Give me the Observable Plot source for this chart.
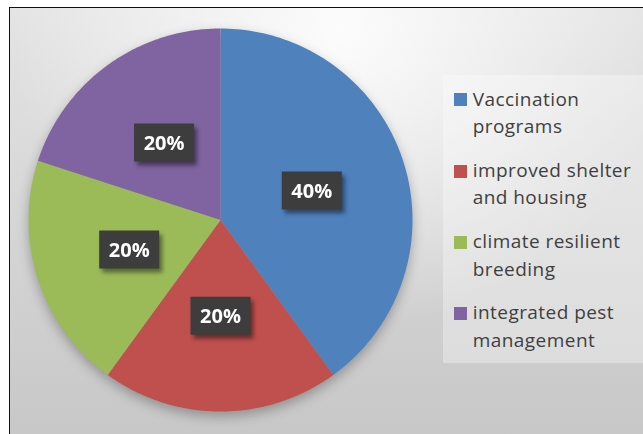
<!DOCTYPE html>
<html>
<head>
<meta charset="utf-8">
<script src="https://cdn.jsdelivr.net/npm/d3@7"></script>
<script src="https://cdn.jsdelivr.net/npm/@observablehq/plot@0.6"></script>
<style>
  html, body { margin: 0; padding: 0; background: #fff; }
  #wrap { position: relative; width: 643px; height: 434px; overflow: hidden; }
  #frame {
    position: absolute; left: 9px; top: 7px; width: 700px; height: 500px;
    border-left: 1.5px solid #111; border-top: 1.5px solid #111;
    background:
      radial-gradient(ellipse 330px 300px at 330px 20px, rgba(252,252,252,1) 0%, rgba(252,252,252,0) 100%),
      linear-gradient(#e4e4e4, #c6c6c6 90%);
  }
  #chart { position: absolute; left: 0; top: 0; }
  #legend {
    position: absolute; left: 443px; top: 75px; width: 220px; height: 288px;
    background: rgba(255,255,255,0.32);
    font-family: "Open Sans", sans-serif; font-size: 19px; letter-spacing: 0.45px;
    color: #3f3f3f; line-height: 27.5px; box-sizing: border-box; padding-top: 10.5px;
  }
  .item { position: relative; padding-left: 29.7px; width: 170px; margin-bottom: 16.3px; }
  .sw { position: absolute; left: 11.3px; top: 7.8px; width: 13px; height: 13px; }
</style>
</head>
<body>
<div id="wrap">
  <div id="frame"></div>
  <div id="chart"></div>
  <div id="legend"></div>
</div>
<script>
const categories = ["Vaccination programs", "improved shelter and housing", "climate resilient breeding", "integrated pest management"];
const values = [40, 20, 20, 20];
const labels = ["40%", "20%", "20%", "20%"];
const colors = ["#4F81BD", "#C0504D", "#9BBB59", "#8064A2"];

const data = categories.map((c, i) => ({cat: c, value: values[i], label: labels[i]}));
const arcs = d3.pie().sort(null).value(d => d.value)(data);

// slice outlines derived from the pie angles (unit circle, y up)
const pts = [];
for (const a of arcs) {
  const n = 120;
  pts.push({cat: a.data.cat, x: 0, y: 0});
  for (let k = 0; k <= n; k++) {
    const t = a.startAngle + (a.endAngle - a.startAngle) * k / n;
    pts.push({cat: a.data.cat, x: Math.sin(t), y: Math.cos(t)});
  }
  pts.push({cat: a.data.cat, x: 0, y: 0});
}
const cents = arcs.map(a => {
  const m = (a.startAngle + a.endAngle) / 2;
  return {cat: a.data.cat, label: a.data.label, x: 0.5 * Math.sin(m), y: 0.5 * Math.cos(m)};
});

const box = {draw(ctx) { ctx.rect(-30, -19, 60, 38); }};

const chart = Plot.plot({
  width: 643, height: 434,
  marginLeft: 28, marginRight: 231, marginTop: 28, marginBottom: 23,
  x: {domain: [-1, 1], axis: null},
  y: {domain: [-1, 1], axis: null},
  color: {domain: categories, range: colors},
  style: {background: "transparent", fontFamily: "Open Sans, sans-serif"},
  marks: [
    Plot.line(pts, {x: "x", y: "y", z: "cat", fill: "cat", stroke: null, curve: "linear"}),
    Plot.dot(cents, {x: "x", y: "y", symbol: box, fill: "#000", fillOpacity: 0.45, stroke: null, dx: 3, dy: 4}),
    Plot.dot(cents, {x: "x", y: "y", symbol: box, fill: "#3d3d3d", stroke: null}),
    Plot.text(cents, {x: "x", y: "y", text: "label", fill: "white", fontWeight: "bold", fontSize: 20, dy: 1})
  ]
});
document.getElementById("chart").appendChild(chart);

const lineG = chart.querySelector('g[aria-label="line"]');
if (lineG) lineG.style.filter = "drop-shadow(0px 5px 6px rgba(0,0,0,0.28))";
const dotGs = chart.querySelectorAll('g[aria-label="dot"]');
if (dotGs[0]) dotGs[0].style.filter = "blur(2px)";

const col = chart.scale("color");
const legend = document.getElementById("legend");
categories.forEach(c => {
  const it = document.createElement("div");
  it.className = "item";
  const sw = document.createElement("span");
  sw.className = "sw";
  sw.style.background = col.apply(c);
  it.appendChild(sw);
  it.appendChild(document.createTextNode(c));
  legend.appendChild(it);
});
</script>
</body>
</html>
